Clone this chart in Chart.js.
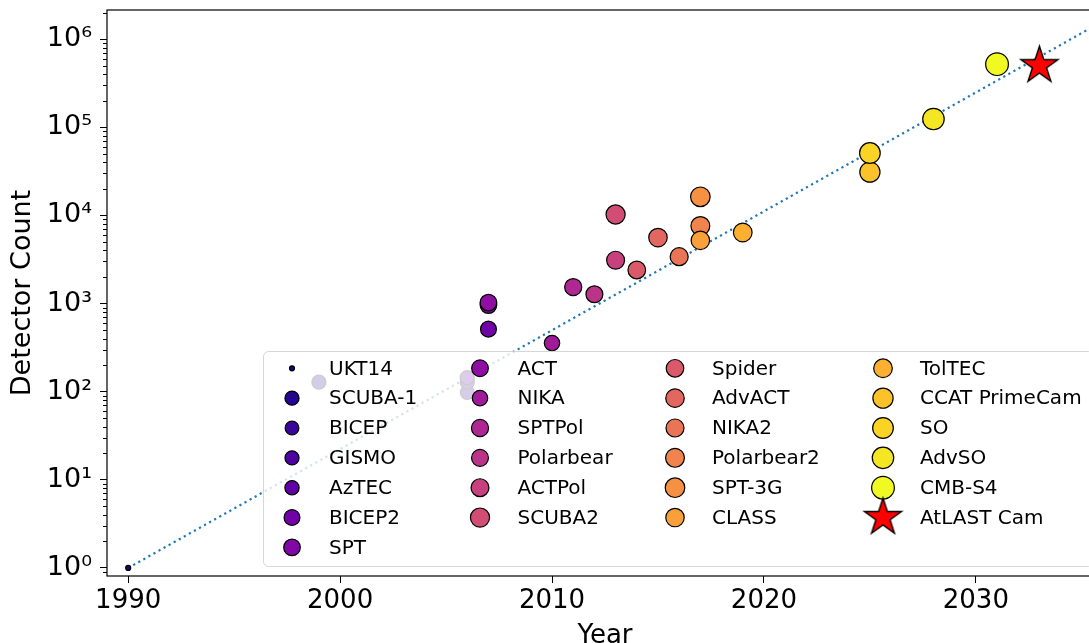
<!DOCTYPE html>
<html>
<head>
<meta charset="utf-8">
<script src="https://cdn.jsdelivr.net/npm/chart.js@4.4.1/dist/chart.umd.min.js"></script>
<style>
    html, body { margin: 0; padding: 0; background: #fff; overflow: hidden; }
    #wrap { width: 1103px; height: 643px; }
</style>
</head>
<body>
<div id="wrap"><canvas id="detChart" width="1103" height="643"></canvas></div>
<script>
// instruments, in colour order (last one is the star)
var instruments = ['UKT14', 'SCUBA-1', 'BICEP', 'GISMO', 'AzTEC', 'BICEP2', 'SPT', 'ACT', 'NIKA',
    'SPTPol', 'Polarbear', 'ACTPol', 'SCUBA2', 'Spider', 'AdvACT', 'NIKA2', 'Polarbear2', 'SPT-3G',
    'CLASS', 'TolTEC', 'CCAT PrimeCam', 'SO', 'AdvSO', 'CMB-S4', 'AtLAST Cam'];
var years = [1990, 1999, 2006, 2006, 2006, 2007, 2007, 2007, 2010,
    2011, 2012, 2013, 2013, 2014, 2015, 2016, 2017, 2017,
    2017, 2019, 2025, 2025, 2028, 2031, 2033];
var detectors = [1, 128, 98, 128, 144, 512, 960, 1024, 356,
    1536, 1274, 3100, 10240, 2400, 5600, 3400, 7588, 16260,
    5200, 6400, 31000, 51000, 124000, 520000, 500000];

var trendYears = [1990, 2036];
var trendCounts = [1, 1.6e6];

var yearTicks = [1990, 2000, 2010, 2020, 2030];
var countTicks = [1, 10, 100, 1000, 10000, 100000, 1000000];

var FONT = "'DejaVu Sans', 'Liberation Sans', sans-serif";
var SUP = ['\u2070', '\u00b9', '\u00b2', '\u00b3', '\u2074', '\u2075', '\u2076'];

// plasma colormap anchors at 0, 0.1, ... 1
var plasmaStops = ['#0d0887', '#41049d', '#6a00a8', '#8f0da4', '#b12a90', '#cc4778',
    '#e16462', '#f2844b', '#fca636', '#fcce25', '#f0f921'];

function hexRgb(h) {
    return [parseInt(h.substr(1, 2), 16), parseInt(h.substr(3, 2), 16), parseInt(h.substr(5, 2), 16)];
}

function plasma(t) {
    var p = t * (plasmaStops.length - 1);
    var i = Math.min(Math.floor(p), plasmaStops.length - 2);
    var f = p - i;
    var a = hexRgb(plasmaStops[i]), b = hexRgb(plasmaStops[i + 1]);
    var c = a.map(function(v, k) { return Math.round(v + (b[k] - v) * f); });
    return 'rgb(' + c.join(',') + ')';
}

function markerRadius(n) {
    return Math.max(2.5, Math.sqrt(22 * (Math.log10(n) + 0.15)));
}

function makeStar(R) {
    var size = Math.ceil(2 * R + 4);
    var c = document.createElement('canvas');
    c.width = size; c.height = size;
    var g = c.getContext('2d');
    var cx = size / 2, cy = size / 2, r = R * 0.382;
    g.beginPath();
    for (var i = 0; i < 10; i++) {
        var a = -Math.PI / 2 + i * Math.PI / 5;
        var rr = i % 2 ? r : R;
        g.lineTo(cx + rr * Math.cos(a), cy + rr * Math.sin(a));
    }
    g.closePath();
    g.fillStyle = '#ff0000';
    g.fill();
    g.lineWidth = 1.4;
    g.strokeStyle = '#000';
    g.stroke();
    return c;
}

var last = instruments.length - 1;
var starImg = makeStar(19.5);
var pointColors = instruments.map(function(_, i) { return i < last ? plasma(i / (last - 1)) : '#ff0000'; });
var pointRadii = detectors.map(function(n, i) { return i < last ? markerRadius(n) : 19.5; });
var pointStyles = instruments.map(function(_, i) { return i < last ? 'circle' : starImg; });

function noPad(s) {
    s.paddingTop = 0; s.paddingBottom = 0; s.paddingLeft = 0; s.paddingRight = 0;
}

// frame, minor log ticks and the boxed 4-column legend
var decorPlugin = {
    id: 'decor',
    afterDraw: function(chart) {
        var ctx = chart.ctx;
        var area = chart.chartArea;
        var ys = chart.scales.y;

        ctx.save();
        ctx.strokeStyle = '#000';
        ctx.lineWidth = 1;
        for (var k = -1; k <= 6; k++) {
            for (var m = 2; m <= 9; m++) {
                var v = m * Math.pow(10, k);
                if (v <= ys.min || v >= ys.max) continue;
                var py = Math.round(ys.getPixelForValue(v)) + 0.5;
                ctx.beginPath();
                ctx.moveTo(area.left - 4, py);
                ctx.lineTo(area.left, py);
                ctx.stroke();
            }
        }
        ctx.lineWidth = 1.2;
        ctx.strokeRect(area.left, area.top, area.right - area.left, area.bottom - area.top);

        // legend box
        var bx = 263.5, by = 351.5, bw = 830, bh = 215, br = 5;
        ctx.beginPath();
        ctx.moveTo(bx + br, by);
        ctx.arcTo(bx + bw, by, bx + bw, by + bh, br);
        ctx.arcTo(bx + bw, by + bh, bx, by + bh, br);
        ctx.arcTo(bx, by + bh, bx, by, br);
        ctx.arcTo(bx, by, bx + bw, by, br);
        ctx.closePath();
        ctx.fillStyle = 'rgba(255,255,255,0.8)';
        ctx.fill();
        ctx.strokeStyle = 'rgba(204,204,204,0.8)';
        ctx.lineWidth = 1;
        ctx.stroke();

        var colMarker = [292, 480, 675, 883];
        var colText = [329, 517.5, 712, 920];
        var colStart = [0, 7, 13, 19];
        ctx.font = '20px ' + FONT;
        ctx.textBaseline = 'middle';
        ctx.textAlign = 'left';
        instruments.forEach(function(name, i) {
            var col = 0;
            while (col < 3 && i >= colStart[col + 1]) col++;
            var row = i - colStart[col];
            var cy = 368.3 + row * 29.85;
            var cx = colMarker[col];
            if (i === last) {
                ctx.drawImage(starImg, cx - starImg.width / 2, cy - starImg.height / 2);
            } else {
                ctx.beginPath();
                ctx.arc(cx, cy, pointRadii[i], 0, Math.PI * 2);
                ctx.fillStyle = pointColors[i];
                ctx.fill();
                ctx.lineWidth = 1.2;
                ctx.strokeStyle = '#000';
                ctx.stroke();
            }
            ctx.fillStyle = '#000';
            ctx.fillText(name, colText[col], cy + 1);
        });
        ctx.restore();
    }
};

new Chart(document.getElementById('detChart'), {
    data: {
        datasets: [
            {
                type: 'scatter',
                label: 'Instruments',
                data: years.map(function(yr, i) { return { x: yr, y: detectors[i] }; }),
                pointBackgroundColor: pointColors,
                pointBorderColor: '#000',
                pointBorderWidth: 1.2,
                pointRadius: pointRadii,
                pointStyle: pointStyles,
                order: 1
            },
            {
                type: 'line',
                label: 'Trend',
                data: trendYears.map(function(yr, i) { return { x: yr, y: trendCounts[i] }; }),
                borderColor: '#1f77b4',
                borderWidth: 2.2,
                borderDash: [2.2, 3.6],
                pointRadius: 0,
                fill: false,
                order: 2
            }
        ]
    },
    options: {
        responsive: false,
        animation: false,
        events: [],
        layout: { autoPadding: false, padding: { top: 10, right: 0, left: 0, bottom: 0 } },
        plugins: { legend: { display: false }, tooltip: { enabled: false } },
        scales: {
            x: {
                type: 'linear',
                min: 1989,
                max: 2036,
                afterBuildTicks: function(s) { s.ticks = yearTicks.map(function(v) { return { value: v }; }); },
                afterFit: function(s) { s.height = 67; noPad(s); },
                border: { display: false },
                grid: { drawOnChartArea: false, drawTicks: true, tickLength: 7, tickColor: '#000', tickWidth: 1 },
                ticks: {
                    color: '#000', font: { family: FONT, size: 26 }, padding: 3,
                    maxRotation: 0, autoSkip: false,
                    callback: function(v) { return String(v); }
                },
                title: {
                    display: true, text: 'Year', color: '#000',
                    font: { family: FONT, size: 26 }, padding: { top: 0, bottom: -9 }
                }
            },
            y: {
                type: 'logarithmic',
                min: 0.81,
                max: 2.14e6,
                afterBuildTicks: function(s) { s.ticks = countTicks.map(function(v) { return { value: v, major: true }; }); },
                afterFit: function(s) { s.width = 107; noPad(s); },
                border: { display: false },
                grid: { drawOnChartArea: false, drawTicks: true, tickLength: 7, tickColor: '#000', tickWidth: 1 },
                ticks: {
                    color: '#000', font: { family: FONT, size: 27 }, padding: 8, autoSkip: false,
                    callback: function(v) { return '10' + SUP[Math.round(Math.log10(v))]; }
                },
                title: {
                    display: true, text: 'Detector Count', color: '#000',
                    font: { family: FONT, size: 27 }, padding: { top: 7, bottom: 0 }
                }
            }
        }
    },
    plugins: [decorPlugin]
});
</script>
</body>
</html>
